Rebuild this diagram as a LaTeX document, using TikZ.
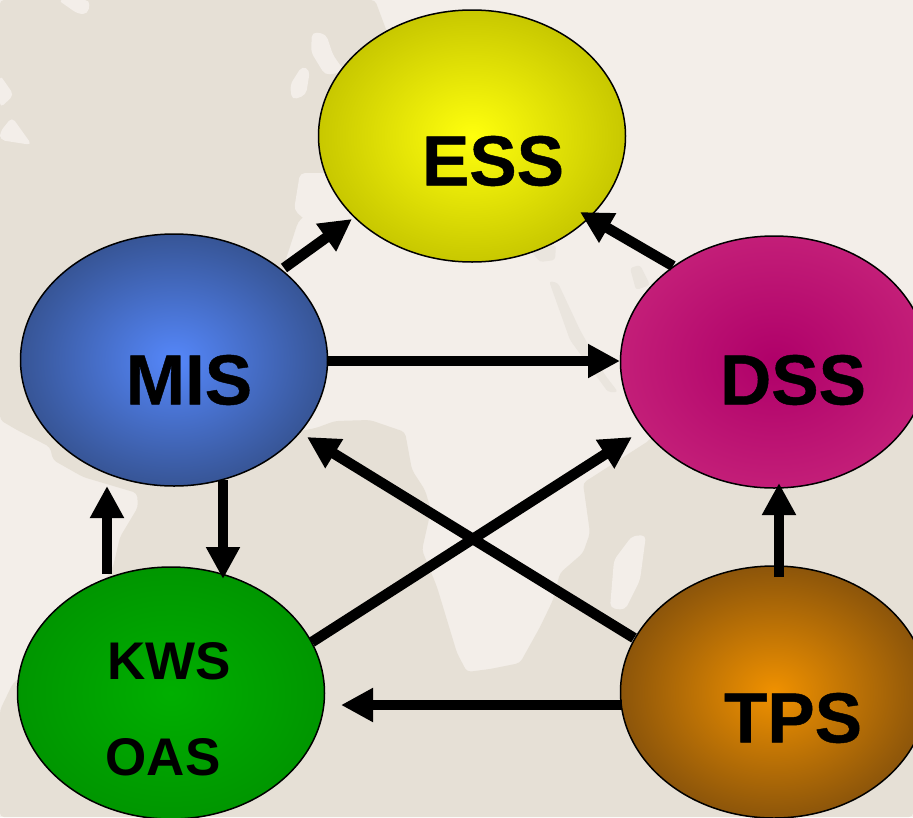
\documentclass[tikz,border=0pt]{standalone}
\usepackage{fontspec}
\setmainfont{Liberation Sans}[BoldFeatures={FakeBold=0.6}]
\newfontfamily\smallbold{Liberation Sans Bold}
\usetikzlibrary{arrows.meta,shapes.geometric}
\definecolor{bgc}{HTML}{F3EEE9}
\definecolor{landc}{HTML}{E6E0D6}
\definecolor{slivc}{HTML}{EAE5DE}
\tikzset{
 x=1pt,y=-1pt,
 bub/.style={ellipse,draw=black,line width=1.5pt,minimum width=307pt,minimum height=252pt,inner sep=0pt},
 lab/.style={font=\bfseries\fontsize{71}{71}\selectfont,text=black},
 lab2/.style={font=\smallbold\fontsize{53}{53}\selectfont,text=black},
 conn/.style={line width=10.5pt,-{Triangle[length=32pt,width=32pt]},black},
 isle/.style={fill=bgc,rounded corners=5pt},
}
\begin{document}
\begin{tikzpicture}
\useasboundingbox (0,0) rectangle (913,817);
\fill[bgc] (0,0) rectangle (913,817);
% faint map: land darker than the sea
\fill[landc,rounded corners=4pt] (0,0) -- (375,0) -- (390,40) -- (340,180) -- (298,222) -- (283,268) -- (260,350) -- (295,432) -- (316,428) -- (335,421) -- (370,420) -- (405,432) -- (412,470) -- (425,490) -- (431,510) -- (422,550) -- (437,587) -- (457,653) -- (467,672) -- (490,669) -- (520,663) -- (540,627) -- (553,600) -- (560,573) -- (583,553) -- (590,533) -- (583,483) -- (650,440) -- (700,300) -- (913,300) -- (913,817) -- (0,817) -- (0,710) -- (13,683) -- (60,650) -- (113,567) -- (120,537) -- (138,507) -- (137,493) -- (83,477) -- (53,460) -- (50,447) -- (17,430) -- (0,420) -- cycle;
% islands and inland seas
\fill[isle] (312,32) -- (326,34) -- (333,55) -- (345,72) -- (325,75) -- (311,52) -- cycle;
\fill[isle] (302,66) -- (310,70) -- (306,95) -- (292,100) -- (290,85) -- cycle;
\fill[isle] (300,173) -- (340,173) -- (345,218) -- (310,224) -- (294,210) -- cycle;
\fill[isle] (0,75) -- (14,95) -- (0,108) -- cycle;
\fill[isle] (0,132) -- (12,117) -- (32,145) -- (0,140) -- cycle;
\fill[isle] (58,0) -- (90,0) -- (88,14) -- (78,14) -- cycle;
\fill[isle] (632,536) -- (646,535) -- (640,580) -- (625,610) -- (610,608) -- (614,560) -- cycle;
% faint lakes on the sea side
\fill[slivc,rounded corners=3pt] (549,281) -- (558,283) -- (580,330) -- (605,375) -- (618,392) -- (608,392) -- (570,340) -- cycle;
\fill[slivc,rounded corners=3pt] (630,268) -- (640,265) -- (650,285) -- (636,290) -- cycle;
\fill[slivc,rounded corners=3pt] (530,250) -- (556,245) -- (555,260) -- (540,262) -- cycle;
\node[bub,inner color=yellow!95!white,outer color={rgb,255:red,200;green,200;blue,0}] (ess) at (472,136) {};
\node[bub,inner color={rgb,255:red,85;green,135;blue,250},outer color={rgb,255:red,55;green,85;blue,150}] (mis) at (174,360) {};
\node[bub,inner color={rgb,255:red,175;green,0;blue,105},outer color={rgb,255:red,195;green,30;blue,120}] (dss) at (774,362) {};
\node[bub,inner color={rgb,255:red,0;green,175;blue,0},outer color={rgb,255:red,0;green,150;blue,0}] (kws) at (171,693) {};
\node[bub,inner color={rgb,255:red,240;green,145;blue,0},outer color={rgb,255:red,140;green,85;blue,10}] (tps) at (774,692) {};
\node[lab] (esst) at (493,161) {ESS};
\node[lab] (mist) at (189,380) {MIS};
\node[lab] (dsst) at (793,380) {DSS};
\node[lab] (tpst) at (793,718) {TPS};
\node[lab2] (kwst) at (169,661) {KWS};
\node[lab2] (oast) at (163,757) {OAS};
\coordinate (a1) at (284,268); \coordinate (a1e) at (352,219);
\coordinate (a2) at (673,266); \coordinate (a2e) at (580,212);
\coordinate (a3) at (328,361); \coordinate (a3e) at (620,361);
\coordinate (a4) at (223,480); \coordinate (a4e) at (223,579);
\coordinate (a5) at (107,574); \coordinate (a5e) at (107,486);
\coordinate (a6) at (312,642); \coordinate (a6e) at (632,437);
\coordinate (a7) at (634,638); \coordinate (a7e) at (307,437);
\coordinate (a8) at (779,577); \coordinate (a8e) at (779,483);
\coordinate (a9) at (622,705); \coordinate (a9e) at (341,705);
\draw[conn] (a1) -- (a1e);
\draw[conn] (a2) -- (a2e);
\draw[conn] (a3) -- (a3e);
\draw[conn] (a4) -- (a4e);
\draw[conn] (a5) -- (a5e);
\draw[conn] (a6) -- (a6e);
\draw[conn] (a7) -- (a7e);
\draw[conn] (a8) -- (a8e);
\draw[conn] (a9) -- (a9e);
\end{tikzpicture}
\end{document}
